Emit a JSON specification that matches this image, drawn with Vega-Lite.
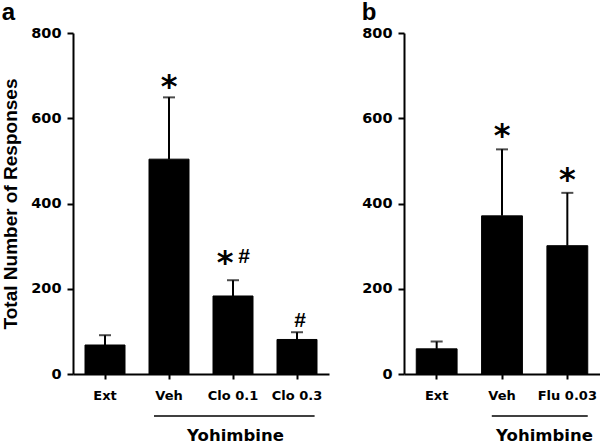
{
  "$schema": "https://vega.github.io/schema/vega-lite/v6.json",
  "padding": {"left": 1, "top": 0, "right": 0, "bottom": 0},
  "background": "white",
  "spacing": 32,
  "datasets": {
    "bars": [
      {"panel": "a", "group": "Ext", "mean": 68, "sem": 23, "ann": ""},
      {"panel": "a", "group": "Veh", "mean": 504, "sem": 145, "ann": "*"},
      {"panel": "a", "group": "Clo 0.1", "mean": 183, "sem": 37, "ann": "*#"},
      {"panel": "a", "group": "Clo 0.3", "mean": 81, "sem": 17, "ann": "#"},
      {"panel": "b", "group": "Ext", "mean": 59, "sem": 17, "ann": ""},
      {"panel": "b", "group": "Veh", "mean": 371, "sem": 156, "ann": "*"},
      {"panel": "b", "group": "Flu 0.03", "mean": 301, "sem": 124, "ann": "*"}
    ],
    "brackets": [
      {"panel": "a", "from": "Veh", "to": "Clo 0.3", "label": "Yohimbine"},
      {"panel": "b", "from": "Veh", "to": "Flu 0.03", "label": "Yohimbine"}
    ]
  },
  "config": {
    "view": {"stroke": null},
    "axis": {
      "domainColor": "black", "domainWidth": 2, "tickColor": "black", "tickWidth": 2,
      "grid": false, "labelColor": "black", "titleColor": "black",
      "labelFont": "DejaVu Sans", "labelFontWeight": "bold", "titleFont": "DejaVu Sans", "titleFontWeight": "bold"
    },
    "title": {"font": "Liberation Sans", "fontWeight": "bold", "fontSize": 24, "anchor": "start", "frame": "bounds", "color": "black", "offset": 0.01}
  },
  "hconcat": [
    {
      "width": 256, "height": 341,
      "title": {"text": "a"},
      "layer": [
        {
          "data": {"name": "bars"},
          "transform": [{"filter": "datum.panel == 'a'"}],
          "mark": {"type": "bar", "color": "black", "stroke": "black", "strokeWidth": 1},
          "encoding": {
            "x": {"field": "group", "type": "nominal",
              "scale": {"domain": ["Ext", "Veh", "Clo 0.1", "Clo 0.3"], "paddingInner": 0.375, "paddingOuter": 0.1875},
              "axis": {"title": "Yohimbine", "titleX": 162, "titleY": 66, "titleFontSize": 16.5, "titleBaseline": "alphabetic", "labelAngle": 0, "labelFontSize": 13, "labelPadding": 10, "tickSize": 5}},
            "y": {"field": "mean", "type": "quantitative", "scale": {"domain": [0, 800]},
              "axis": {"title": "Total Number of Responses", "titleFont": "Liberation Sans", "titleFontSize": 19, "titlePadding": 10, "values": [0, 200, 400, 600, 800], "labelFontSize": 14.5, "labelPadding": 6, "tickSize": 6}}
          }
        },
        {
          "data": {"name": "bars"},
          "transform": [{"filter": "datum.panel == 'a'"}, {"calculate": "datum.mean + datum.sem", "as": "top"}],
          "mark": {"type": "rule", "color": "black", "strokeWidth": 2},
          "encoding": {
            "x": {"field": "group", "type": "nominal"},
            "y": {"field": "mean", "type": "quantitative"},
            "y2": {"field": "top"}
          }
        },
        {
          "data": {"name": "bars"},
          "transform": [{"filter": "datum.panel == 'a'"}, {"calculate": "datum.mean + datum.sem", "as": "top"}],
          "mark": {"type": "tick", "color": "black", "size": 12, "thickness": 2, "orient": "horizontal"},
          "encoding": {
            "x": {"field": "group", "type": "nominal"},
            "y": {"field": "top", "type": "quantitative"}
          }
        },
        {
          "data": {"name": "bars"},
          "transform": [{"filter": "datum.panel == 'a' && datum.ann == '*'"}, {"calculate": "datum.mean + datum.sem", "as": "top"}],
          "mark": {"type": "text", "text": "*", "font": "DejaVu Sans", "fontWeight": "bold", "fontSize": 32, "baseline": "alphabetic", "align": "center", "dy": 0, "color": "black"},
          "encoding": {
            "x": {"field": "group", "type": "nominal"},
            "y": {"field": "top", "type": "quantitative"}
          }
        },
        {
          "data": {"name": "bars"},
          "transform": [{"filter": "datum.panel == 'a' && datum.ann == '*#'"}, {"calculate": "datum.mean + datum.sem", "as": "top"}],
          "mark": {"type": "text", "text": "*", "font": "DejaVu Sans", "fontWeight": "bold", "fontSize": 32, "baseline": "alphabetic", "align": "center", "dy": -7, "dx": -8, "color": "black"},
          "encoding": {
            "x": {"field": "group", "type": "nominal"},
            "y": {"field": "top", "type": "quantitative"}
          }
        },
        {
          "data": {"name": "bars"},
          "transform": [{"filter": "datum.panel == 'a' && datum.ann == '*#'"}, {"calculate": "datum.mean + datum.sem", "as": "top"}],
          "mark": {"type": "text", "text": "#", "font": "Liberation Sans", "fontWeight": "bold", "fontSize": 21, "baseline": "alphabetic", "align": "center", "dy": -17, "dx": 11, "color": "black"},
          "encoding": {
            "x": {"field": "group", "type": "nominal"},
            "y": {"field": "top", "type": "quantitative"}
          }
        },
        {
          "data": {"name": "bars"},
          "transform": [{"filter": "datum.panel == 'a' && datum.ann == '#'"}, {"calculate": "datum.mean + datum.sem", "as": "top"}],
          "mark": {"type": "text", "text": "#", "font": "Liberation Sans", "fontWeight": "bold", "fontSize": 21, "baseline": "alphabetic", "align": "center", "dy": -5, "dx": 3, "color": "black"},
          "encoding": {
            "x": {"field": "group", "type": "nominal"},
            "y": {"field": "top", "type": "quantitative"}
          }
        },
        {
          "data": {"name": "brackets"},
          "transform": [{"filter": "datum.panel == 'a'"}],
          "mark": {"type": "rule", "color": "black", "strokeWidth": 1.5, "clip": false},
          "encoding": {
            "x": {"field": "from", "type": "nominal", "bandPosition": 0.125},
            "x2": {"field": "to", "bandPosition": 0.94},
            "y": {"datum": -98.5}
          }
        }
      ]
    },
    {
      "width": 196, "height": 341,
      "title": {"text": "b"},
      "layer": [
        {
          "data": {"name": "bars"},
          "transform": [{"filter": "datum.panel == 'b'"}],
          "mark": {"type": "bar", "color": "black", "stroke": "black", "strokeWidth": 1},
          "encoding": {
            "x": {"field": "group", "type": "nominal",
              "scale": {"domain": ["Ext", "Veh", "Flu 0.03"], "paddingInner": 0.375, "paddingOuter": 0.1875},
              "axis": {"title": "Yohimbine", "titleX": 140, "titleY": 66, "titleFontSize": 16.5, "titleBaseline": "alphabetic", "labelAngle": 0, "labelFontSize": 13, "labelPadding": 10, "tickSize": 5}},
            "y": {"field": "mean", "type": "quantitative", "scale": {"domain": [0, 800]},
              "axis": {"title": null, "values": [0, 200, 400, 600, 800], "labelFontSize": 14.5, "labelPadding": 6, "tickSize": 6}}
          }
        },
        {
          "data": {"name": "bars"},
          "transform": [{"filter": "datum.panel == 'b'"}, {"calculate": "datum.mean + datum.sem", "as": "top"}],
          "mark": {"type": "rule", "color": "black", "strokeWidth": 2},
          "encoding": {
            "x": {"field": "group", "type": "nominal"},
            "y": {"field": "mean", "type": "quantitative"},
            "y2": {"field": "top"}
          }
        },
        {
          "data": {"name": "bars"},
          "transform": [{"filter": "datum.panel == 'b'"}, {"calculate": "datum.mean + datum.sem", "as": "top"}],
          "mark": {"type": "tick", "color": "black", "size": 12, "thickness": 2, "orient": "horizontal"},
          "encoding": {
            "x": {"field": "group", "type": "nominal"},
            "y": {"field": "top", "type": "quantitative"}
          }
        },
        {
          "data": {"name": "bars"},
          "transform": [{"filter": "datum.panel == 'b' && datum.ann == '*'"}, {"calculate": "datum.mean + datum.sem", "as": "top"}],
          "mark": {"type": "text", "text": "*", "font": "DejaVu Sans", "fontWeight": "bold", "fontSize": 32, "baseline": "alphabetic", "align": "center", "dy": -3, "color": "black"},
          "encoding": {
            "x": {"field": "group", "type": "nominal"},
            "y": {"field": "top", "type": "quantitative"}
          }
        },
        {
          "data": {"name": "brackets"},
          "transform": [{"filter": "datum.panel == 'b'"}],
          "mark": {"type": "rule", "color": "black", "strokeWidth": 1.5, "clip": false},
          "encoding": {
            "x": {"field": "from", "type": "nominal", "bandPosition": 0.25},
            "x2": {"field": "to", "bandPosition": 1.0},
            "y": {"datum": -98.5}
          }
        }
      ]
    }
  ]
}
